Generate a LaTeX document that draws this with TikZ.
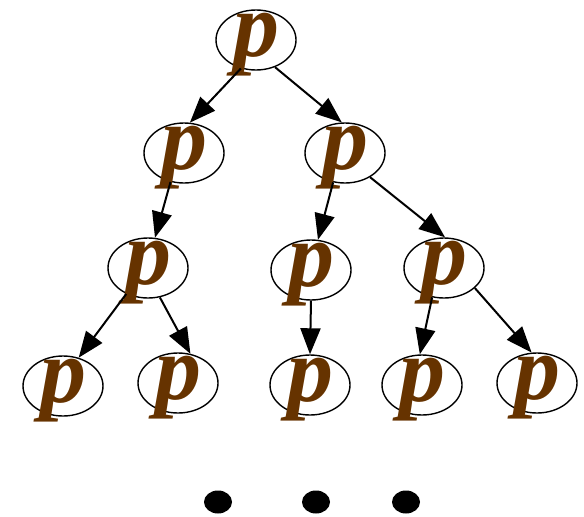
\documentclass[tikz,border=0pt]{standalone}
\usepackage{fontspec}
\setmainfont{Liberation Serif}
\usetikzlibrary{shapes.geometric,arrows.meta}
\definecolor{pbrown}{HTML}{663300}
\begin{document}
\begin{tikzpicture}[x=1pt,y=1pt,
  pnode/.style={draw,ellipse,line width=1.4pt,minimum width=80pt,minimum height=60pt,inner sep=0pt,
    text height=32pt,text depth=0pt,font=\fontsize{92}{92}\selectfont\bfseries\itshape,text=pbrown},
  arr/.style={-{Triangle[length=26pt,width=20pt]},line width=2pt},
  bigdot/.style={fill,ellipse,minimum width=28pt,minimum height=23pt,inner sep=0pt}]
\useasboundingbox (0,0) rectangle (584,-517);
\node[pnode] (root) at (256,-40) {p};
\node[pnode] (n21) at (184,-153) {p};
\node[pnode] (n22) at (345,-153) {p};
\node[pnode] (n31) at (148,-268) {p};
\node[pnode] (n32) at (311,-270) {p};
\node[pnode] (n33) at (444,-268) {p};
\node[pnode] (n41) at (63,-386) {p};
\node[pnode] (n42) at (178,-383) {p};
\node[pnode] (n43) at (310,-385) {p};
\node[pnode] (n44) at (422,-385) {p};
\node[pnode] (n45) at (537,-383) {p};
\draw[arr] (root.242) -- (n21.79);
\draw[arr] (root.305) -- (n22.96);
\draw[arr] (n21.245) -- (n31.77);
\draw[arr] (n22.248) -- (n32.77);
\draw[arr] (n22.316) -- (n33.88);
\draw[arr] (n31.230) -- (n41.61);
\draw[arr] (n31.292) -- (n42.67);
\draw[arr] (n32.270) -- (n43.90);
\draw[arr] (n33.248) -- (n44.94);
\draw[arr] (n33.327) -- (n45.100);
\node[bigdot] (d1) at (218,-502) {};
\node[bigdot] (d2) at (316,-502) {};
\node[bigdot] (d3) at (406,-502) {};
\end{tikzpicture}
\end{document}
